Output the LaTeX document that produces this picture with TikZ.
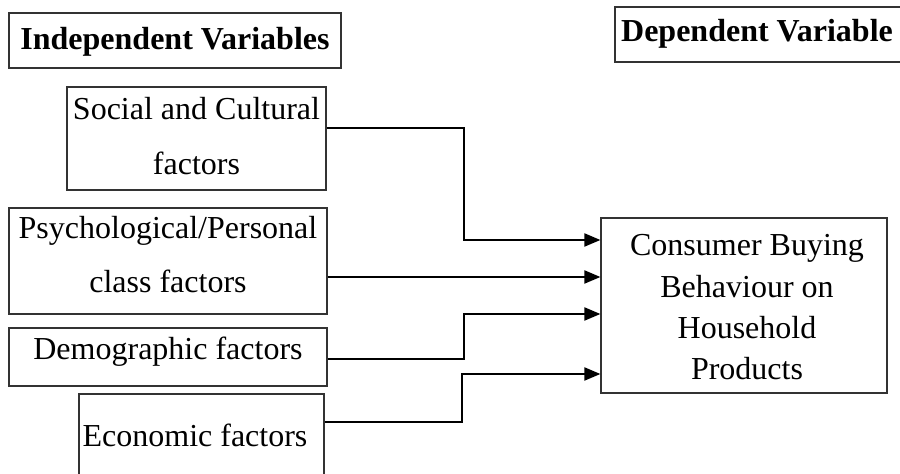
\documentclass[tikz,border=0pt]{standalone}
\usepackage{fontspec}
\setmainfont{Liberation Serif}
\usetikzlibrary{arrows.meta,fit}
\begin{document}
\begin{tikzpicture}[x=0.5pt,y=-0.5pt,
  box/.style={draw=black!80, line width=0.6pt, inner sep=0pt},
  txt/.style={anchor=base, inner sep=0pt, font=\fontsize{16}{19}\selectfont},
  hdr/.style={anchor=base, inner sep=0pt, font=\fontsize{16}{19}\selectfont\bfseries},
  conn/.style={line width=1pt, -{Triangle[length=8pt,width=6.5pt]}}]
\clip (0,0) rectangle (900,474);
% boxes
\node[box, fit={(9,13) (341,68)}] (ih) {};
\node[box, fit={(615,7) (920,62)}] (dh) {};
\node[box, fit={(67,87) (326,190)}] (soc) {};
\node[box, fit={(9,208) (327,314)}] (psy) {};
\node[box, fit={(9,328) (327,386)}] (dem) {};
\node[box, fit={(79,394) (324,500)}] (eco) {};
\node[box, fit={(601,218) (887,393)}] (tgt) {};
% texts
\node[hdr] (iht) at (175,50) {Independent Variables};
\node[hdr] (dht) at (757,42) {Dependent Variable};
\node[txt] (soc1) at (196.5,120) {Social and Cultural};
\node[txt] (soc2) at (196.5,175) {factors};
\node[txt] (psy1) at (168,239) {Psychological/Personal};
\node[txt] (psy2) at (168,293) {class factors};
\node[txt] (dem1) at (168,360) {Demographic factors};
\node[txt] (eco1) at (195,447) {Economic factors};
\node[txt] (tgt1) at (747,256) {Consumer Buying};
\node[txt] (tgt2) at (747,297.5) {Behaviour on};
\node[txt] (tgt3) at (747,339) {Household};
\node[txt] (tgt4) at (747,380) {Products};
% connectors
\draw[conn] (soc.east |- 0,128) -| (464,240) -- (tgt.west |- 0,240);
\draw[conn] (psy.east |- 0,277) -- (tgt.west |- 0,277);
\draw[conn] (dem.east |- 0,359) -| (464,314) -- (tgt.west |- 0,314);
\draw[conn] (eco.east |- 0,422) -| (462,374) -- (tgt.west |- 0,374);
\end{tikzpicture}
\end{document}
